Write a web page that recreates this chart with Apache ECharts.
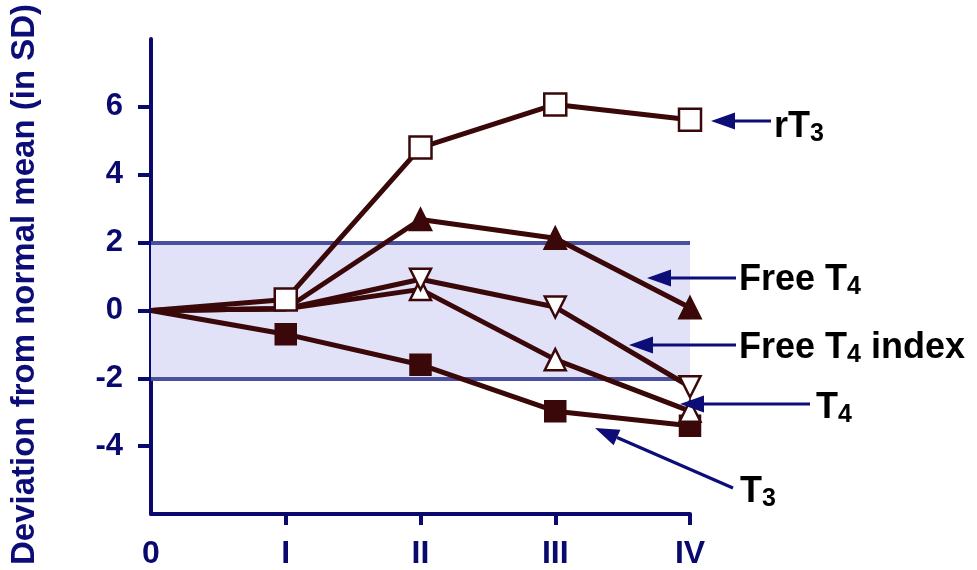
<!DOCTYPE html>
<html>
<head>
<meta charset="utf-8">
<script src="https://cdn.jsdelivr.net/npm/echarts@6/dist/echarts.min.js"></script>
<style>
html,body{margin:0;padding:0;background:#fff;}
#chart{width:977px;height:570px;}
</style>
</head>
<body>
<div id="chart"></div>
<script>
// ---- data ----
var stageLabels = ['0', 'I', 'II', 'III', 'IV'];
var stages = [0, 1, 2, 3, 4];
var yTickValues = [-4, -2, 0, 2, 4, 6];
var rT3 = [0, 0.32, 4.8, 6.07, 5.62];
var freeT4 = [0, 0.05, 2.68, 2.13, 0.08];
var freeT4Index = [0, 0.05, 0.92, 0.1, -2.25];
var t4 = [0, 0.05, 0.62, -1.45, -2.97];
var t3 = [0, -0.7, -1.6, -2.97, -3.4];
var normalBand = [-2, 2];

var NAVY = '#0d0d78';
var AXIS = '#0a0a6e';
var BROWN = '#3a0808';
var BAND_FILL = '#e1e1f8';
var BAND_LINE = '#4a4f9e';
var FONT = '"Liberation Sans", Arial, sans-serif';

// hiddenUpTo: points with index <= hiddenUpTo are drawn without a marker
function pairs(arr, hiddenUpTo) {
  return arr.map(function (v, i) {
    var p = { value: [stages[i], v] };
    if (i <= hiddenUpTo) { p.symbol = 'none'; }
    return p;
  });
}

function lineSeries(name, data, symbol, filled, rotate, size, hiddenUpTo) {
  return {
    name: name, type: 'line', data: pairs(data, hiddenUpTo),
    symbol: symbol, symbolSize: size, symbolRotate: rotate || 0,
    showSymbol: true,
    lineStyle: { color: BROWN, width: 5 },
    itemStyle: { color: filled ? BROWN : '#ffffff', borderColor: BROWN, borderWidth: 2.5 },
    z: 5,
    animation: false
  };
}

var chart = echarts.init(document.getElementById('chart'), null, { renderer: 'canvas' });

var series = [
  {
    name: 'band', type: 'line', data: [], silent: true,
    markArea: {
      silent: true,
      itemStyle: { color: BAND_FILL, borderWidth: 0 },
      data: [[{ yAxis: normalBand[1], xAxis: 0 }, { yAxis: normalBand[0], xAxis: 4 }]]
    },
    markLine: {
      silent: true, symbol: 'none', label: { show: false },
      lineStyle: { color: BAND_LINE, width: 4, type: 'solid' },
      data: [{ yAxis: normalBand[1] }, { yAxis: normalBand[0] }]
    },
    z: 1
  },
  lineSeries('T3', t3, 'rect', true, 0, 20, 0),
  lineSeries('T4', t4, 'triangle', false, 0, 21, 1),
  lineSeries('Free T4 index', freeT4Index, 'triangle', false, 180, 21, 1),
  lineSeries('Free T4', freeT4, 'triangle', true, 0, 21, 1),
  lineSeries('rT3', rT3, 'rect', false, 0, 22, 0)
];

function arrow(x1, y1, x2, y2) {
  var dx = x2 - x1, dy = y2 - y1, L = Math.sqrt(dx * dx + dy * dy);
  var ux = dx / L, uy = dy / L, px = -uy, py = ux;
  var hl = 24, hw = 8.5;
  var bx = x2 - ux * hl, by = y2 - uy * hl;
  return [
    { type: 'line', shape: { x1: x1, y1: y1, x2: bx, y2: by }, style: { stroke: NAVY, lineWidth: 3.2 }, z: 100 },
    { type: 'polygon', shape: { points: [[x2, y2], [bx + px * hw, by + py * hw], [bx - px * hw, by - py * hw]] }, style: { fill: NAVY }, z: 100 }
  ];
}

var rich = {
  b: { fontSize: 36, fontWeight: 'bold', color: NAVY, fontFamily: FONT, lineHeight: 40 },
  s: { fontSize: 25, fontWeight: 'bold', color: NAVY, fontFamily: FONT, lineHeight: 40, verticalAlign: 'bottom', padding: [9, 0, 0, 0] }
};
function label(x, y, txt) {
  return { type: 'text', x: x, y: y, z: 100, style: { text: txt, rich: rich, verticalAlign: 'middle', align: 'left' } };
}

var graphics = []
  .concat(arrow(771, 121, 711, 121))
  .concat(arrow(736, 278, 647, 278))
  .concat(arrow(736, 345, 629, 345))
  .concat(arrow(810, 404, 680, 404))
  .concat(arrow(733, 488, 595, 428));
graphics.push(label(774, 127, '{b|rT}{s|3}'));
graphics.push(label(739, 280, '{b|Free T}{s|4}'));
graphics.push(label(739, 348, '{b|Free T}{s|4}{b| index}'));
graphics.push(label(816, 408, '{b|T}{s|4}'));
graphics.push(label(740, 492, '{b|T}{s|3}'));

chart.setOption({
  animation: false,
  backgroundColor: '#ffffff',
  grid: { left: 150, right: 287, top: 39, bottom: 51, containLabel: false },
  xAxis: {
    type: 'value', min: 0, max: 4, interval: 1,
    axisLine: { show: true, onZero: false, lineStyle: { color: AXIS, width: 4 } },
    axisTick: { show: true, length: 11, lineStyle: { color: AXIS, width: 4 }, customValues: [1, 2, 3, 4] },
    splitLine: { show: false },
    axisLabel: {
      margin: 24, fontSize: 32, fontWeight: 'bold', color: AXIS, fontFamily: FONT,
      customValues: stages,
      formatter: function (v) { return stageLabels[Math.round(v)]; }
    }
  },
  yAxis: {
    type: 'value', min: -6, max: 8, interval: 2,
    name: 'Deviation from normal mean (in SD)', nameLocation: 'middle', nameGap: 110,
    nameTextStyle: { fontSize: 33, fontWeight: 'bold', color: NAVY, fontFamily: FONT, padding: [0, 16, 0, 0] },
    axisLine: { show: true, onZero: false, lineStyle: { color: AXIS, width: 4 } },
    axisTick: { show: true, length: 13, lineStyle: { color: AXIS, width: 4 }, customValues: yTickValues },
    splitLine: { show: false },
    axisLabel: {
      margin: 28, fontSize: 31, fontWeight: 'bold', color: AXIS, fontFamily: FONT,
      customValues: yTickValues
    }
  },
  series: series,
  graphic: graphics
});
</script>
</body>
</html>
